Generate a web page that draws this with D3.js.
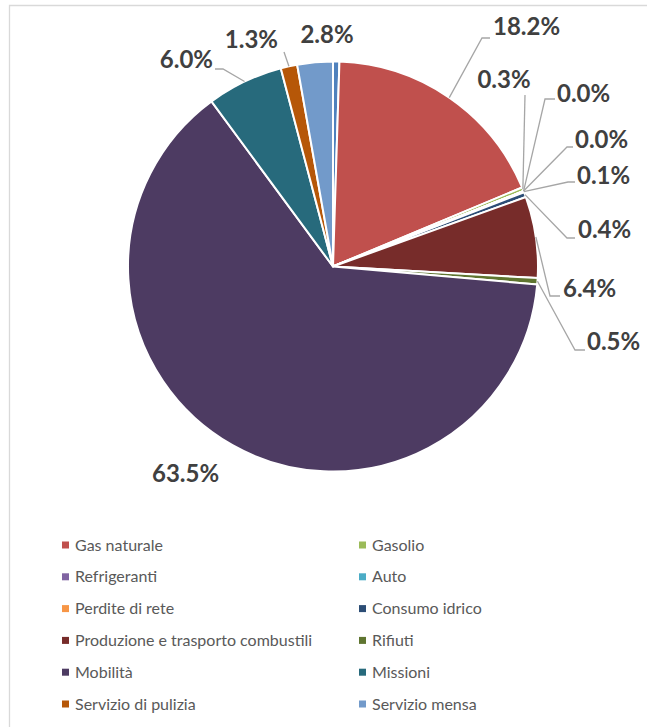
<!DOCTYPE html>
<html>
<head>
<meta charset="utf-8">
<script src="https://cdn.jsdelivr.net/npm/d3@7/dist/d3.min.js"></script>
<style>
  body { margin: 0; background: #fff; }
  svg { display: block; }
</style>
</head>
<body>
<svg id="chart" width="647" height="727"></svg>
<script>
// Emission shares by source (%), in drawing order clockwise from 12 o'clock.
// The first slice carries no label and no legend entry.
const categories = [
  "Energia elettrica",
  "Gas naturale", "Gasolio", "Refrigeranti", "Auto", "Perdite di rete",
  "Consumo idrico", "Produzione e trasporto combustili", "Rifiuti",
  "Mobilità", "Missioni", "Servizio di pulizia", "Servizio mensa"
];
const values = [0.5, 18.2, 0.3, 0.0, 0.0, 0.1, 0.4, 6.4, 0.5, 63.5, 6.0, 1.3, 2.8];
const labelled = [false, true, true, true, true, true, true, true, true, true, true, true, true];
const colors = [
  "#4F81BD",
  "#C0504D", "#9BBB59", "#8064A2", "#4BACC6", "#F79646",
  "#2C4D75", "#772C2A", "#5F7530", "#4D3B62", "#276A7C", "#B65708", "#729ACA"
];

// Label placement: text anchor point and leader path (from slice edge outward).
const labelLayout = [
  null,
  { x: 493, y: 35,  anchor: "start",  path: [[482, 38], [490, 38]] },
  { x: 504, y: 88,  anchor: "middle", path: [[525, 95]] },
  { x: 557, y: 102, anchor: "start",  path: [[545, 99], [555, 99]] },
  { x: 575, y: 148, anchor: "start",  path: [[567, 147], [573, 147]] },
  { x: 577, y: 184, anchor: "start",  path: [[568, 182], [575, 182]] },
  { x: 578, y: 238, anchor: "start",  path: [[567, 238], [575, 238]] },
  { x: 563, y: 297, anchor: "start",  path: [[550, 296], [560, 296]] },
  { x: 587, y: 350, anchor: "start",  path: [[575, 350], [585, 350]] },
  { x: 152, y: 482, anchor: "start",  path: null },
  { x: 213, y: 68,  anchor: "end",    path: [[223, 69], [215, 69]] },
  { x: 278, y: 48,  anchor: "end",    path: [[284, 52]] },
  { x: 327, y: 43,  anchor: "middle", path: null }
];

const svg = d3.select("#chart");
const cx = 333, cy = 266.5, radius = 205;

// chart frame (left and top edges)
svg.append("path")
  .attr("d", "M9.5,727 V5.5 H647")
  .attr("fill", "none")
  .attr("stroke", "#d9d9d9")
  .attr("stroke-width", 1.3);

const data = categories.map((c, i) => ({ name: c, value: values[i], color: colors[i], idx: i }));

const pie = d3.pie().sort(null).value(d => d.value).startAngle(0).endAngle(2 * Math.PI);
const arcs = pie(data);

const arc = d3.arc().innerRadius(0).outerRadius(radius);
const edgeArc = d3.arc().innerRadius(radius).outerRadius(radius);

const g = svg.append("g").attr("transform", `translate(${cx},${cy})`);

g.selectAll("path.slice")
  .data(arcs)
  .join("path")
  .attr("class", "slice")
  .attr("d", arc)
  .attr("fill", d => d.data.color)
  .attr("stroke", "#fff")
  .attr("stroke-width", 2)
  .attr("stroke-linejoin", "round");

// leader lines
const line = d3.line();
arcs.forEach(a => {
  const lay = labelLayout[a.data.idx];
  if (!lay || !lay.path) return;
  const e = edgeArc.centroid(a);
  const pts = [[e[0] + cx, e[1] + cy]].concat(lay.path);
  svg.append("path")
    .attr("d", line(pts))
    .attr("fill", "none")
    .attr("stroke", "#a6a6a6")
    .attr("stroke-width", 1.3);
});

// value labels
const fmt = v => v.toFixed(1) + "%";
arcs.forEach(a => {
  const lay = labelLayout[a.data.idx];
  if (!lay || !labelled[a.data.idx]) return;
  svg.append("text")
    .attr("x", lay.x)
    .attr("y", lay.y)
    .attr("text-anchor", lay.anchor)
    .attr("font-family", "Lato, 'Open Sans', sans-serif")
    .attr("font-weight", 700)
    .attr("font-size", 24)
    .attr("fill", "#404040")
    .text(fmt(a.data.value));
});

// legend: two columns, row-major
const legendItems = data.filter(d => labelled[d.idx]);
const colX = [62, 359];
const rowY = d3.scalePoint().domain(d3.range(6)).range([545, 704]);
const legend = svg.append("g");
legendItems.forEach((d, i) => {
  const col = i % 2, row = Math.floor(i / 2);
  const y = rowY(row);
  legend.append("rect")
    .attr("x", colX[col]).attr("y", y - 3.5)
    .attr("width", 7).attr("height", 7)
    .attr("fill", d.color);
  legend.append("text")
    .attr("x", colX[col] + 13)
    .attr("y", y)
    .attr("dy", "0.35em")
    .attr("font-family", "Lato, 'Open Sans', sans-serif")
    .attr("font-size", 16)
    .attr("fill", "#595959")
    .text(d.name);
});
</script>
</body>
</html>
